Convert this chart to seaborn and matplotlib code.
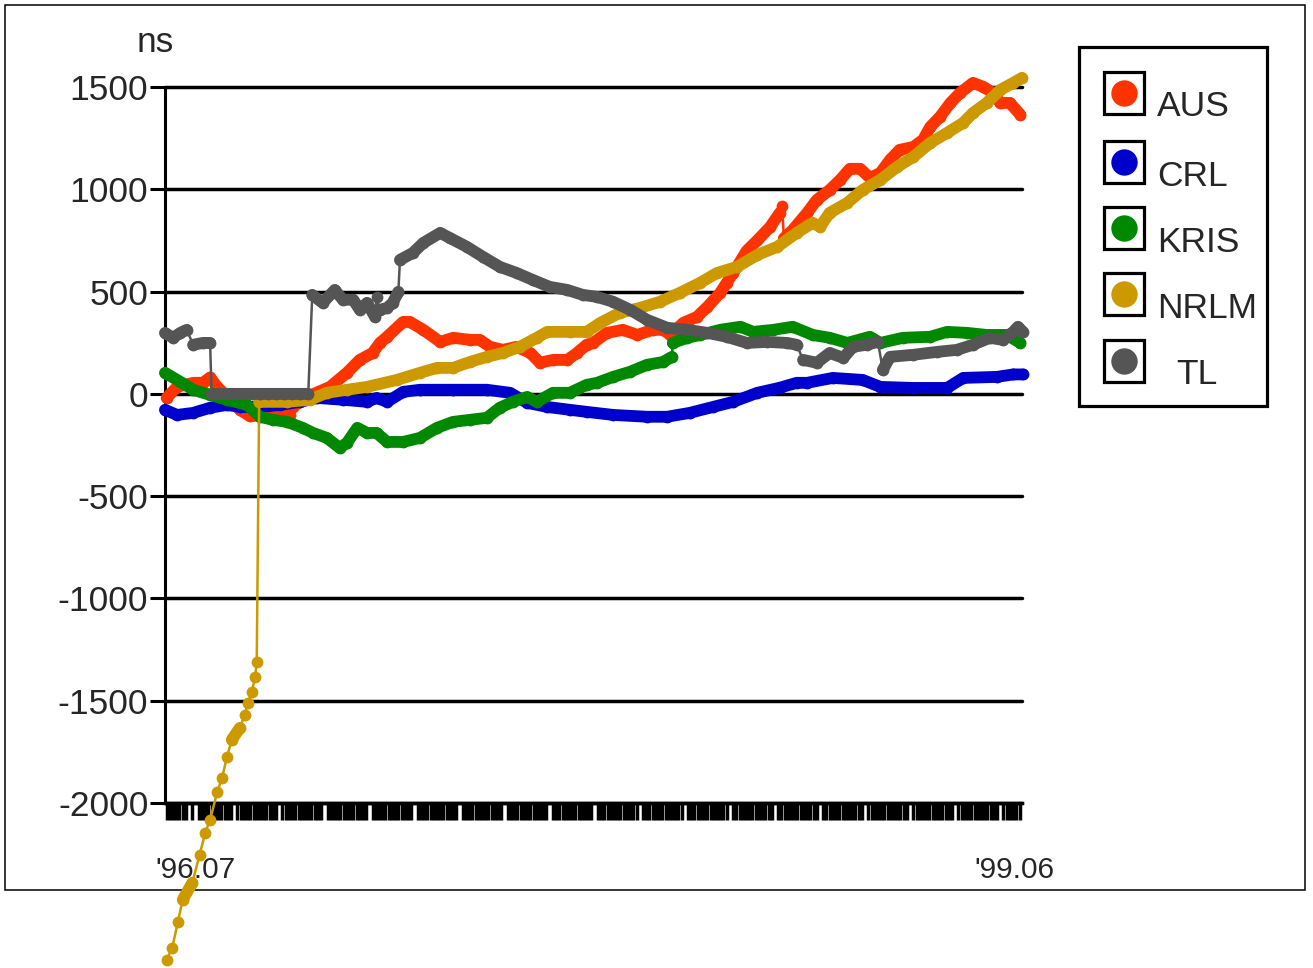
import numpy as np
import pandas as pd
import matplotlib
matplotlib.use("Agg")
import matplotlib.pyplot as plt
from matplotlib.patches import Rectangle
import seaborn as sns

# Time offsets (ns) of five timing labs, day 0 = 1996-07-01
stations = ["AUS", "CRL", "KRIS", "NRLM", "TL"]
colors = ["#FF3300", "#0000CC", "#008800", "#CC9900", "#555555"]

aus_day = [2, 15, 35, 47, 56, 65, 93, 106, 130, 155, 159, 176, 205, 226, 242, 258, 267, 276,
           296, 304, 321, 342, 358, 379, 391, 404, 420, 437, 454, 466, 482, 500, 512, 524, 532,
           549, 569, 587, 606, 619, 628, 644, 661, 674, 690, 698, 706, 723, 736, 752, 764, 767,
           769, 780, 798, 810, 826, 839, 851, 864, 876, 889, 901, 913, 930, 942, 951, 963, 976,
           988, 1004, 1017, 1029, 1038, 1050, 1063]
aus_ns = [-20, 34, 54, 54, 80, 34, -78, -110, -100, -105, -64, -15, 34, 103, 166, 200, 249, 279,
          352, 352, 313, 254, 274, 264, 264, 230, 215, 230, 200, 152, 166, 166, 200, 240, 249,
          298, 313, 288, 313, 313, 288, 347, 376, 425, 494, 543, 591, 700, 750, 816, 885, 920,
          760, 801, 885, 948, 997, 1046, 1100, 1100, 1056, 1080, 1144, 1193, 1207, 1242, 1305,
          1354, 1422, 1471, 1520, 1501, 1471, 1422, 1422, 1364]

crl_day = [0, 15, 35, 56, 77, 93, 118, 143, 168, 189, 221, 251, 263, 276, 296, 317, 358, 400,
           429, 450, 475, 503, 524, 557, 599, 624, 652, 681, 706, 736, 764, 785, 798, 830, 867,
           889, 930, 972, 992, 1034, 1054, 1066]
crl_ns = [-78, -103, -93, -68, -54, -64, -64, -54, -39, -20, -29, -39, -20, -39, 10, 20, 20, 20,
          5, -44, -64, -78, -88, -103, -112, -112, -93, -64, -39, 5, 30, 54, 54, 78, 68,
          34, 29, 29, 78, 83, 95, 95]

kris_day = [0, 19, 35, 56, 77, 102, 118, 134, 152, 171, 184, 201, 217, 226, 239, 251, 263, 276,
            296, 317, 338, 358, 379, 400, 416, 432, 450, 462, 482, 503, 524, 537, 557, 578, 599,
            619, 630, 631, 649, 665, 690, 715, 731, 756, 780, 805, 826, 848, 876, 889, 917, 951,
            972, 997, 1021, 1046, 1063]
kris_ns = [103, 59, 20, -5, -29, -54, -112, -127, -137, -166, -191, -215, -264, -240, -166, -191,
           -191, -235, -235, -215, -166, -137, -127, -117, -68, -39, -15, -39, 5, 5, 44, 54, 83,
           108, 142, 156, 181, 249, 274, 288, 313, 328, 303, 313, 328, 288, 274, 249, 279, 249,
           274, 279, 303, 298, 288, 288, 249]

nrlm_day = [2, 9, 16, 22, 34, 43, 50, 56, 65, 71, 77, 83, 93, 99, 103, 108, 112, 114, 117, 152,
            180, 201, 226, 251, 288, 317, 338, 358, 379, 400, 420, 441, 462, 475, 503, 524, 541,
            565, 590, 615, 640, 665, 686, 711, 736, 761, 785, 805, 814, 826, 848, 867, 889, 910,
            930, 951, 972, 992, 1004, 1021, 1038, 1054, 1065]
nrlm_ns = [-2767, -2708, -2581, -2473, -2390, -2253, -2146, -2082, -1945, -1877, -1774, -1691,
           -1633, -1569, -1510, -1457, -1383, -1310, -39, -39, -29, 5, 20, 34, 68, 103, 127, 127,
           156, 181, 200, 230, 274, 303, 303, 303, 347, 396, 420, 450, 494, 543, 591, 621, 679,
           719, 787, 836, 816, 885, 934, 997, 1046, 1110, 1158, 1227, 1276, 1325, 1373, 1422,
           1486, 1520, 1545]

tl_day = [0, 10, 19, 27, 35, 47, 56, 58, 68, 78, 88, 98, 108, 118, 128, 138, 148, 158, 168, 178,
          183, 196, 211, 221, 234, 242, 251, 261, 263, 267, 276, 283, 290, 292, 308, 321, 342,
          354, 375, 395, 416, 437, 457, 478, 500, 519, 537, 557, 578, 599, 624, 649, 674, 698,
          723, 748, 773, 785, 793, 810, 826, 843, 855, 872, 886, 892, 901, 930, 959, 984, 1004,
          1025, 1041, 1054, 1060, 1066]
tl_ns = [298, 274, 298, 313, 240, 249, 249, 0, 0, 0, 0, 0, 0, 0, 0, 0, 0, 0, 0, 0,
         484, 445, 508, 460, 460, 411, 445, 376, 474, 411, 420, 445, 499, 655, 689, 738, 787,
         762, 719, 670, 621, 591, 557, 523, 508, 484, 474, 450, 411, 362, 323, 313, 298, 279,
         249, 254, 249, 240, 166, 152, 200, 176, 230, 240, 254, 117, 181, 191, 205, 215, 240,
         274, 264, 303, 328, 303]

tick_labels = ["'96.07", "'99.06"]
tick_days = [38, 1056]

frames = []
for name, d, v in zip(stations,
                      [aus_day, crl_day, kris_day, nrlm_day, tl_day],
                      [aus_ns, crl_ns, kris_ns, nrlm_ns, tl_ns]):
    frames.append(pd.DataFrame({"day": d, "ns": v, "station": name}))
df = pd.concat(frames, ignore_index=True)

sns.set_style("white")
plt.rcParams["font.family"] = ["Liberation Sans", "DejaVu Sans"]
plt.rcParams["axes.unicode_minus"] = False

W, H = 1313, 968
fig = plt.figure(figsize=(W / 100, H / 100), dpi=100)

# background layer in pixel coordinates: outer frame and legend
lax = fig.add_axes([0, 0, 1, 1], zorder=0)
lax.set_xlim(0, W)
lax.set_ylim(H, 0)
lax.axis("off")
lax.add_patch(Rectangle((5, 5), 1300, 885, fill=False, ec="black", lw=1.1))

ax = fig.add_axes([165 / W, 1 - 803 / H, (1022 - 165) / W, (803 - 87) / H], zorder=2)
ax.set_facecolor("none")

# Daily samples merge into a solid band; fast steps show as a thin connector.
STEEP = 8.0  # ns per day
for k, (name, col) in enumerate(zip(stations, colors)):
    sub = df[df["station"] == name].reset_index(drop=True)
    sns.lineplot(data=sub, x="day", y="ns", color=col, estimator=None, sort=False,
                 marker="o", markersize=8.5, markeredgewidth=0, linewidth=1.8,
                 legend=False, ax=ax, clip_on=False, zorder=3 + 2 * k)
    slope = np.abs(np.diff(sub["ns"])) / np.maximum(np.diff(sub["day"]), 1)
    xs, ys = [], []
    for i in range(len(sub)):
        xs.append(sub["day"][i])
        ys.append(sub["ns"][i])
        if i < len(slope) and slope[i] > STEEP:
            xs.append(np.nan)
            ys.append(np.nan)
    ax.plot(xs, ys, color=col, lw=8.5, solid_capstyle="round",
            solid_joinstyle="round", clip_on=False, zorder=4 + 2 * k)

ax.set_xlim(0, 1065)
ax.set_ylim(-2000, 1500)
ax.set_xlabel("")
ax.set_ylabel("")

ax.set_yticks(np.arange(-2000, 1501, 500))
ax.yaxis.grid(True, color="black", lw=2.5)
ax.set_axisbelow(True)
for gl in ax.get_ygridlines():
    gl.set_clip_on(False)
ax.tick_params(axis="y", length=11, width=2.2, direction="out", color="black",
               pad=1, labelsize=25.5, left=True)

# dense time ticks with a small break every eight weeks
minor = [d for i, d in enumerate(np.arange(2, 1066, 4)) if i % 14 != 7]
ax.set_xticks(minor, minor=True)
ax.set_xticks(tick_days)
ax.set_xticklabels(tick_labels)
ax.tick_params(axis="x", which="minor", length=12.5, width=2.5, direction="out",
               color="black", bottom=True)
ax.tick_params(axis="x", which="major", length=0, pad=38, labelsize=21.5)

for s in ["top", "right"]:
    ax.spines[s].set_visible(False)
ax.spines["left"].set_linewidth(2.2)
ax.spines["left"].set_color("black")
ax.spines["bottom"].set_linewidth(2.5)
ax.spines["bottom"].set_color("black")

fig.text(155 / W, 1 - 43 / H, "ns", ha="center", va="center", fontsize=25.5)

# legend
lax.add_patch(Rectangle((1079, 47), 188, 359, fill=False, ec="black", lw=2.3))
centers = [93, 162, 228, 294, 361]
for name, col, cy in zip(stations, colors, centers):
    lax.add_patch(Rectangle((1104, cy - 21), 40, 42, fill=False, ec="black", lw=2.3))
    lax.plot([1124], [cy], "o", ms=19, color=col, mew=0)
    tx = 1176 if name == "TL" else 1157
    lax.text(tx, cy + 14, name, ha="left", va="center", fontsize=25.5)

fig.savefig("out.png", dpi=100)
